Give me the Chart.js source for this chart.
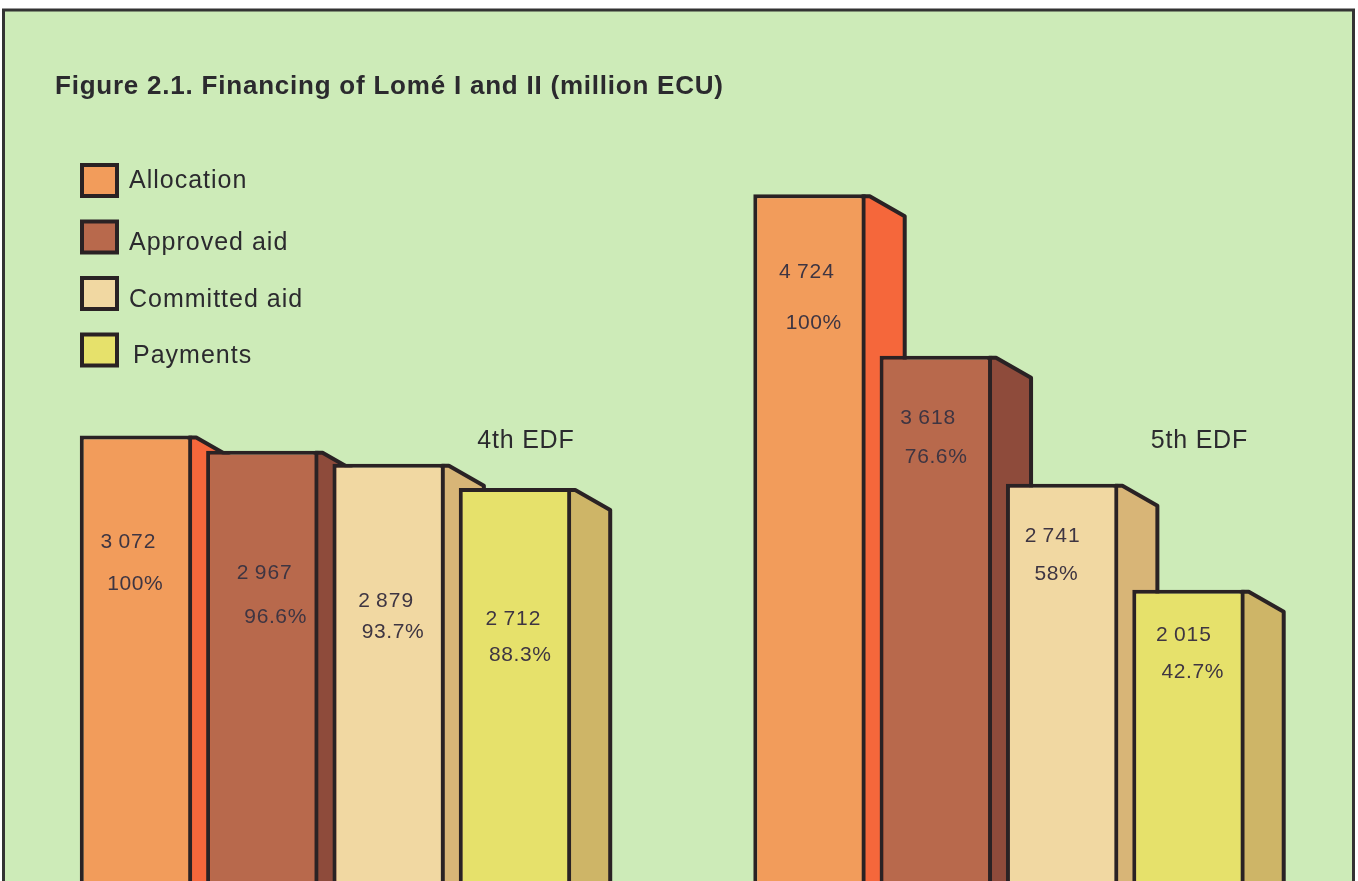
<!DOCTYPE html>
<html><head><meta charset="utf-8">
<style>
html,body{margin:0;padding:0;overflow:hidden;background:#fff;width:1358px;height:881px}
#wrap{position:absolute;left:0;top:0;width:1358px;height:900px}
canvas{display:block}
</style>
<script src="https://cdn.jsdelivr.net/npm/chart.js@4.4.1/dist/chart.umd.min.js"></script>
</head><body><div id="wrap"><canvas id="c" width="1358" height="900"></canvas></div>
<script>
// ---- data ----
const groups = ['4th EDF', '5th EDF'];
const seriesNames = ['Allocation', 'Approved aid', 'Committed aid', 'Payments'];
const allocation = [3072, 4724];
const approvedAid = [2967, 3618];
const committedAid = [2879, 2741];
const payments = [2712, 2015];
const allocationPct = ['100%', '100%'];
const approvedPct = ['96.6%', '76.6%'];
const committedPct = ['93.7%', '58%'];
const paymentsPct = ['88.3%', '42.7%'];
const chartTitle = 'Figure 2.1. Financing of Lomé I and II (million ECU)';

// ---- styles ----
const frontColors = ['#f29c5b', '#b8694c', '#f1d8a2', '#e6e16b'];
const sideColors  = ['#f5673b', '#8e4b3b', '#d8b577', '#ceb567'];
const ink = '#2a2224';
const bgGreen = '#cdebb8';
// label placement relative to bar top / centre, per series, per group
const labelLayout = [
  [{dx:-8, vy:107, px:-1, py:149}, {dx:-3, vy:78, px:4, py:129}],
  [{dx:2, vy:122, px:13, py:166}, {dx:-8, vy:62, px:0, py:101}],
  [{dx:-3, vy:138, px:4, py:169}, {dx:-10, vy:52, px:-6, py:90}],
  [{dx:-2, vy:131, px:5, py:167}, {dx:-5, vy:45, px:4, py:82}]
];
const pctLists = [allocationPct, approvedPct, committedPct, paymentsPct];
const valueLists = [allocation, approvedAid, committedAid, payments];

function fmt(v){ return String(v).replace(/\B(?=(\d{3})+(?!\d))/g, '\u2009'); }
function txt(ctx, s, x, y, font, spacing, align, color){
  ctx.save();
  ctx.font = font; ctx.fillStyle = color || '#2b2a2e';
  ctx.textBaseline = 'middle';
  if ('letterSpacing' in ctx) ctx.letterSpacing = spacing + 'px';
  let w = ctx.measureText(s).width;
  if ('letterSpacing' in ctx) w -= spacing;
  let sx = align === 'center' ? x - w/2 : (align === 'right' ? x - w : x);
  ctx.textAlign = 'left';
  ctx.fillText(s, sx, y);
  ctx.restore();
}

const DX = 39, DY = 22;
const framePlugin = {
  id:'frame',
  beforeDraw(chart){
    const ctx = chart.ctx, W = chart.width, H = chart.height;
    ctx.save();
    ctx.fillStyle = '#ffffff'; ctx.fillRect(0,0,W,H);
    ctx.fillStyle = bgGreen; ctx.fillRect(3,9,1351,H);
    ctx.strokeStyle = '#333333'; ctx.lineWidth = 3;
    ctx.beginPath();
    ctx.moveTo(3.5, H); ctx.lineTo(3.5, 10); ctx.lineTo(1353.5, 10); ctx.lineTo(1353.5, H);
    ctx.stroke();
    ctx.restore();
  },
  beforeDatasetsDraw(chart){
    const ctx = chart.ctx;
    ctx.save();
    chart.data.datasets.forEach((ds, d) => {
      const meta = chart.getDatasetMeta(d);
      meta.data.forEach(el => {
        const p = el.getProps(['x','y','base','width'], true);
        const xr = p.x + p.width/2;
        ctx.beginPath();
        ctx.moveTo(xr - 3, p.y + 2);
        ctx.lineTo(xr + 4, p.y + 2);
        ctx.lineTo(xr + DX, p.y + DY);
        ctx.lineTo(xr + DX, p.base);
        ctx.lineTo(xr - 3, p.base);
        ctx.closePath();
        ctx.fillStyle = sideColors[d];
        ctx.fill();
        ctx.strokeStyle = ink; ctx.lineWidth = 4; ctx.lineJoin = 'round';
        ctx.stroke();
      });
    });
    ctx.restore();
  },
  afterDraw(chart){
    const ctx = chart.ctx;
    // title
    const tfont = 'bold 26px "Liberation Sans", Arial, sans-serif';
    ctx.save();
    ctx.font = tfont;
    const tw = ctx.measureText(chartTitle).width;
    ctx.restore();
    const tsp = Math.max(0, (668 - tw) / (chartTitle.length - 1));
    txt(ctx, chartTitle, 55, 87, tfont, tsp, 'left', '#2b2a2e');
    // legend
    chart.data.datasets.forEach((ds, i) => {
      const top = 163 + i*56.5;
      ctx.save();
      ctx.fillStyle = frontColors[i];
      ctx.fillRect(82, top+2, 35, 31);
      ctx.strokeStyle = ink; ctx.lineWidth = 4;
      ctx.strokeRect(82, top+2, 35, 31);
      ctx.restore();
      txt(ctx, ds.label, i === 3 ? 133 : 129, top + 18 + (i === 0 ? 0 : 6), '25px "Liberation Sans", Arial, sans-serif', 1.0, 'left', '#2b2a2e');
    });
    // group labels
    const xs = chart.scales.x;
    groups.forEach((g, gi) => {
      txt(ctx, g, xs.getPixelForValue(gi) + 200, 441, '25px "Liberation Sans", Arial, sans-serif', 0.8, 'center', '#2b2a2e');
    });
    // value labels
    chart.data.datasets.forEach((ds, d) => {
      const meta = chart.getDatasetMeta(d);
      meta.data.forEach((el, gi) => {
        const p = el.getProps(['x','y'], true);
        const L = labelLayout[d][gi];
        txt(ctx, fmt(valueLists[d][gi]), p.x + L.dx, p.y + L.vy, '21px "Liberation Sans", Arial, sans-serif', 1.0, 'center', '#3e3542');
        txt(ctx, pctLists[d][gi], p.x + L.px, p.y + L.py, '21px "Liberation Sans", Arial, sans-serif', 0.6, 'center', '#3e3542');
      });
    });
  }
};

const datasets = seriesNames.map((name, i) => ({
  label: name,
  data: valueLists[i],
  backgroundColor: frontColors[i],
  borderColor: ink,
  borderWidth: 4,
  borderSkipped: 'start',
  clip: false,
  categoryPercentage: 0.7503,
  barPercentage: 0.89
}));

new Chart(document.getElementById('c'), {
  type: 'bar',
  data: { labels: groups, datasets },
  options: {
    responsive: false,
    animation: false,
    devicePixelRatio: 1,
    layout: { padding: { left: 325.5, right: 359, top: 8, bottom: 16 } },
    plugins: { legend: { display: false }, tooltip: { enabled: false }, title: { display: false } },
    scales: {
      x: { type: 'category', offset: false, display: false, grid: { display: false } },
      y: { min: 0, max: 6000, display: false, grid: { display: false } }
    }
  },
  plugins: [framePlugin]
});
</script>
</body></html>
